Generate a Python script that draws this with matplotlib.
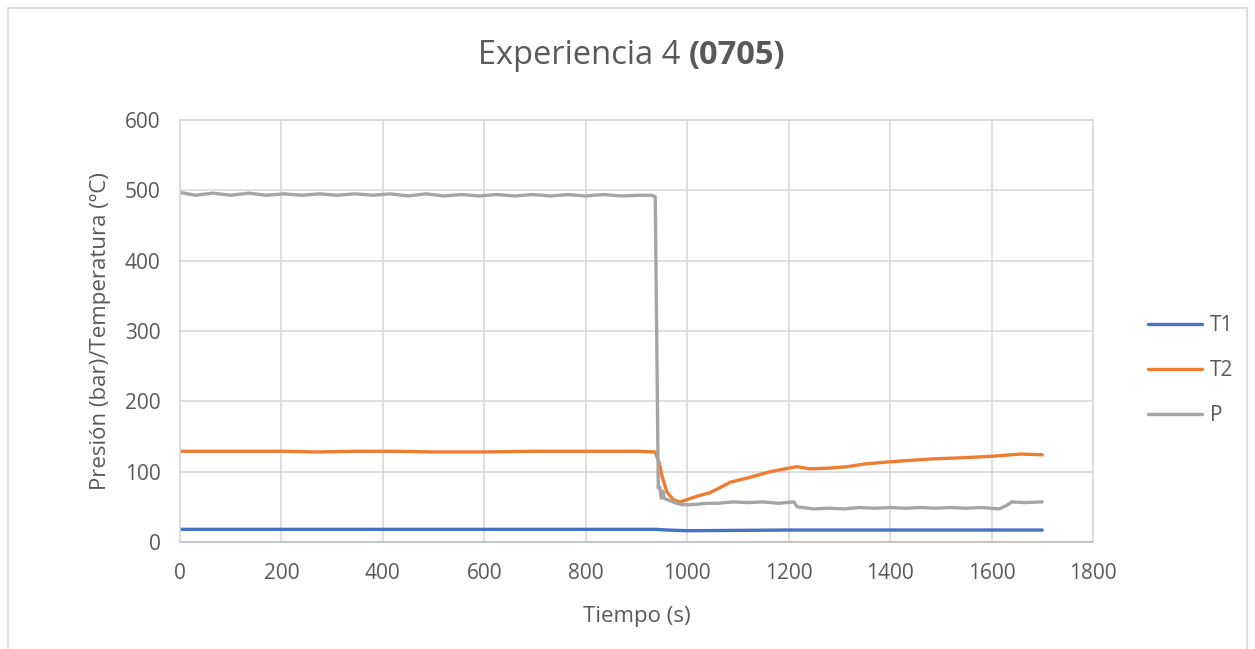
import matplotlib
matplotlib.use("Agg")
import matplotlib.pyplot as plt
from matplotlib.patches import Rectangle

plt.rcParams['font.family'] = ['Open Sans', 'DejaVu Sans']

# T1 (blue)
t_t1 = [0, 200, 400, 600, 800, 937, 960, 1000, 1200, 1400, 1700]
v_t1 = [18, 18, 18, 18, 18, 18, 17, 16, 17, 17, 17]

# T2 (orange)
t_t2 = [0, 100, 200, 270, 350, 420, 500, 600, 700, 800, 900, 937, 945, 951, 960,
        973, 986, 999, 1019, 1045, 1085, 1124, 1164, 1200, 1216, 1242, 1280, 1315,
        1350, 1400, 1479, 1550, 1604, 1657, 1700]
v_t2 = [129, 129, 129, 128, 129, 129, 128, 128, 129, 129, 129, 128, 112, 92, 71,
        60, 57, 60, 65, 70, 85, 92, 100, 105, 107, 104, 105, 107,
        111, 114, 118, 120, 122, 125, 124]

# P (gray)
t_p = [0, 30, 65, 100, 135, 170, 205, 240, 275, 310, 345, 380, 415, 450, 485,
       520, 555, 590, 625, 660, 695, 730, 765, 800, 835, 870, 905, 930, 937,
       943, 946, 949, 952, 955, 962, 975, 990, 1010, 1040, 1060, 1090, 1120,
       1150, 1180, 1210, 1217, 1250, 1280, 1310, 1340, 1370, 1400, 1430, 1460,
       1490, 1520, 1550, 1580, 1615, 1630, 1640, 1665, 1700]
v_p = [497, 493, 496, 493, 496, 493, 495, 493, 495, 493, 495, 493, 495, 492, 495,
       492, 494, 492, 494, 492, 494, 492, 494, 492, 494, 492, 493, 493, 491,
       77, 78, 62, 72, 62, 60, 56, 53, 53, 55, 55, 57, 56,
       57, 55, 57, 50, 47, 48, 47, 49, 48, 49, 48, 49,
       48, 49, 48, 49, 47, 52, 57, 56, 57]

x_ticks = list(range(0, 1801, 200))
y_ticks = list(range(0, 601, 100))

txt = '#595959'
grid = '#D9D9D9'

fig = plt.figure(figsize=(12.55, 6.49), dpi=100)
fig.patches.append(Rectangle((0.0064, -0.1), 0.9872, 1.0877, transform=fig.transFigure,
                             fill=False, edgecolor=grid, lw=1.2))
ax = fig.add_axes([0.1434, 0.1649, 0.7275, 0.6502])

ax.plot(t_t1, v_t1, color='#4472C4', lw=2.4, label='T1', solid_capstyle='round')
ax.plot(t_t2, v_t2, color='#ED7D31', lw=2.4, label='T2', solid_capstyle='round')
ax.plot(t_p, v_p, color='#A5A5A5', lw=2.4, label='P', solid_capstyle='round')

ax.set_xlim(0, 1800)
ax.set_ylim(0, 600)
ax.set_xticks(x_ticks)
ax.set_yticks(y_ticks)
ax.grid(True, color=grid, lw=1.2)
ax.set_axisbelow(True)
for s in ax.spines.values():
    s.set_color(grid)
    s.set_linewidth(1.2)
ax.spines['bottom'].set_color('#BFBFBF')
ax.tick_params(length=0, labelsize=15, colors=txt)
ax.tick_params(axis='y', pad=14)
ax.tick_params(axis='x', pad=15)
ax.set_xlabel('Tiempo (s)', fontsize=16, color=txt, labelpad=16)
ax.set_ylabel('Presión (bar)/Temperatura (ºC)', fontsize=16, color=txt, labelpad=10)

leg = fig.legend(loc='center left', bbox_to_anchor=(0.9, 0.429), frameon=False,
                 fontsize=15, handlelength=2.6, labelspacing=1.15, handletextpad=0.35,
                 labelcolor=txt)

# title: normal part + bold part, centered together
t1 = fig.text(0, 0.915, 'Experiencia 4 ', fontsize=23.5, color=txt, va='center')
t2 = fig.text(0, 0.915, '(0705)', fontsize=23.5, color=txt, va='center', fontweight='bold')
fig.canvas.draw()
r = fig.canvas.get_renderer()
w1 = t1.get_window_extent(r).width / fig.bbox.width
w2 = t2.get_window_extent(r).width / fig.bbox.width
x0 = 0.503 - (w1 + w2) / 2
t1.set_x(x0)
t2.set_x(x0 + w1)

fig.savefig('out.png', dpi=100)
